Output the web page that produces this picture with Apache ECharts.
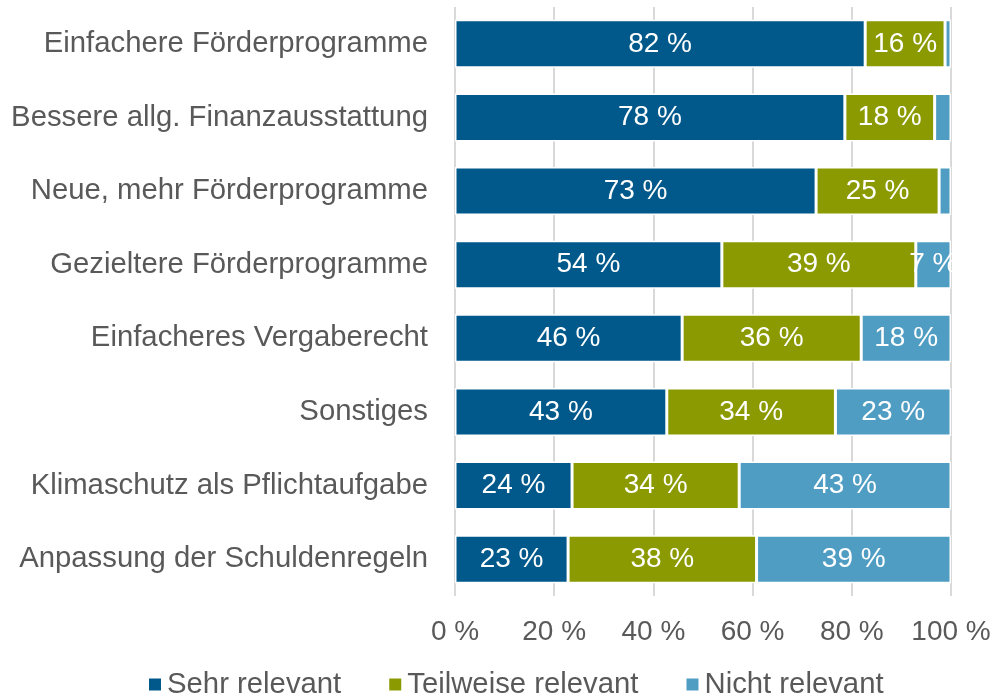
<!DOCTYPE html>
<html>
<head>
<meta charset="utf-8">
<script src="https://cdn.jsdelivr.net/npm/echarts@6/dist/echarts.min.js"></script>
<style>
  html, body { margin: 0; padding: 0; background: #fff; }
  #chart { width: 994px; height: 700px; }
</style>
</head>
<body>
<div id="chart"></div>
<script>
// Kategorien (von oben nach unten)
var categories = [
  'Einfachere Förderprogramme',
  'Bessere allg. Finanzausstattung',
  'Neue, mehr Förderprogramme',
  'Gezieltere Förderprogramme',
  'Einfacheres Vergaberecht',
  'Sonstiges',
  'Klimaschutz als Pflichtaufgabe',
  'Anpassung der Schuldenregeln'
]
var seriesNames = ['Sehr relevant', 'Teilweise relevant', 'Nicht relevant']

// Balkenlaengen (Anteile in %)
var sehrRelevant = [82.7, 78.6, 72.8, 53.8, 45.8, 42.7, 23.6, 22.8]
var teilweiseRelevant = [16.1, 18.1, 24.8, 39.1, 36.1, 34.0, 33.7, 38.0]
var nichtRelevant = [1.2, 3.3, 2.4, 7.1, 18.1, 23.3, 42.7, 39.2]

// Beschriftungen wie im Original
var sehrLabels = ['82', '78', '73', '54', '46', '43', '24', '23']
var teilweiseLabels = ['16', '18', '25', '39', '36', '34', '34', '38']
var nichtLabels = ['', '', '', '7', '18', '23', '43', '39']

var xTicks = [0, 20, 40, 60, 80, 100]

var colors = ['#00598a', '#8a9a00', '#509dc4']
var font = '"Liberation Sans", Arial, sans-serif'

var chart = echarts.init(document.getElementById('chart'))

function makeSeries(idx, values, labels) {
  return {
    name: seriesNames[idx],
    type: 'bar',
    stack: 'total',
    barWidth: 48,
    data: values,
    itemStyle: {
      color: colors[idx],
      borderColor: '#ffffff',
      borderWidth: 1.5
    },
    label: {
      show: true,
      position: 'inside',
      color: '#ffffff',
      fontFamily: font,
      fontSize: 28,
      formatter: function (p) {
        var t = labels[p.dataIndex]
        return t ? t + ' %' : ''
      }
    }
  }
}

var option = {
  animation: false,
  color: colors,
  grid: {
    left: 455,
    right: 43,
    top: 7,
    bottom: 104
  },
  xAxis: {
    type: 'value',
    min: xTicks[0],
    max: xTicks[xTicks.length - 1],
    interval: 20,
    axisLine: { show: false },
    axisTick: { show: false },
    axisLabel: {
      margin: 22,
      color: '#595959',
      fontFamily: font,
      fontSize: 28,
      formatter: '{value} %'
    },
    splitLine: { lineStyle: { color: '#d9d9d9', width: 2 } }
  },
  yAxis: {
    type: 'category',
    inverse: true,
    data: categories,
    axisLine: { show: false },
    axisTick: { show: false },
    axisLabel: {
      margin: 27,
      color: '#595959',
      fontFamily: font,
      fontSize: 29.3
    }
  },
  legend: {
    left: 147,
    top: 670,
    padding: 0,
    itemWidth: 14,
    itemHeight: 14,
    itemGap: 46,
    icon: 'rect',
    textStyle: {
      color: '#595959',
      fontFamily: font,
      fontSize: 29.3
    },
    data: seriesNames
  },
  series: [
    makeSeries(0, sehrRelevant, sehrLabels),
    makeSeries(1, teilweiseRelevant, teilweiseLabels),
    makeSeries(2, nichtRelevant, nichtLabels)
  ]
}

chart.setOption(option)
</script>
</body>
</html>
